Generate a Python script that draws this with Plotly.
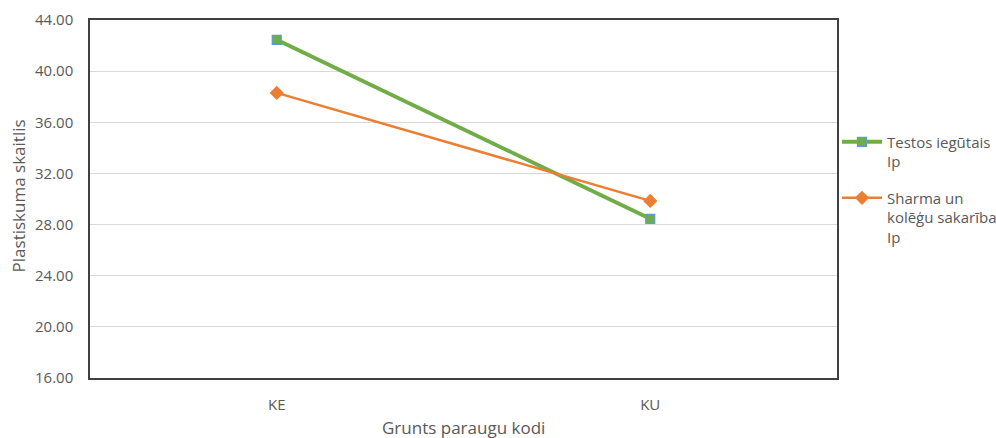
import plotly.graph_objects as go

categories = ["KE", "KU"]
testos_ip = [42.45, 28.45]
sharma_ip = [38.3, 29.85]
series_names = ["Testos iegūtais<br>Ip", "Sharma un<br>kolēģu sakarība<br>Ip"]
y_ticks = [16, 20, 24, 28, 32, 36, 40, 44]
x_title = "Grunts paraugu kodi"
y_title = "Plastiskuma skaitlis"

font_family = "Open Sans, Liberation Sans, sans-serif"

fig = go.Figure()
fig.add_trace(go.Scatter(
    x=categories, y=testos_ip, name=series_names[0], mode="lines+markers",
    legendgroup="g1",
    line=dict(color="#70AD47", width=4),
    marker=dict(symbol="square", size=9, color="#70AD47",
                line=dict(color="#5B9BD5", width=1.2)),
))
fig.add_trace(go.Scatter(
    x=categories, y=sharma_ip, name=series_names[1], mode="lines+markers",
    legendgroup="g2",
    line=dict(color="#ED7D31", width=2.5),
    marker=dict(symbol="diamond", size=11, color="#ED7D31"),
))

fig.update_layout(
    width=996, height=438,
    margin=dict(l=90, r=159, t=20, b=60, autoexpand=False),
    paper_bgcolor="white", plot_bgcolor="white",
    font=dict(family=font_family, size=15, color="#595959"),
    showlegend=True,
    legend=dict(x=1.0, y=0.705, xanchor="left", yanchor="top",
                font=dict(size=15, color="#595959"), valign="top",
                tracegroupgap=14, itemwidth=40, bgcolor="rgba(0,0,0,0)"),
    annotations=[
        dict(text=x_title, xref="paper", yref="paper", x=0.5, y=-0.137,
             xanchor="center", yanchor="middle", showarrow=False,
             font=dict(size=17, color="#595959")),
        dict(text=y_title, xref="paper", yref="paper", x=-0.0964, y=0.51,
             xanchor="center", yanchor="middle", showarrow=False, textangle=-90,
             font=dict(size=17, color="#595959")),
    ],
)
fig.update_xaxes(
    type="category", range=[-0.5, 1.5], automargin=False,
    showgrid=False, showline=True, linecolor="#404040", linewidth=1.5, mirror=True,
    ticks="outside", ticklen=12, tickcolor="rgba(0,0,0,0)",
    tickfont=dict(size=15, color="#595959"),
)
fig.update_yaxes(
    range=[16, 44], tickvals=y_ticks, ticktext=[f"{v:.2f}" for v in y_ticks],
    automargin=False,
    showgrid=True, gridcolor="#D9D9D9", gridwidth=1,
    showline=True, linecolor="#404040", linewidth=1.5, mirror=True,
    ticks="outside", ticklen=12, tickcolor="rgba(0,0,0,0)",
    tickfont=dict(size=15, color="#595959"),
    zeroline=False,
)

fig.write_html("out.html", config={"displayModeBar": False},
               post_script="document.body.style.margin='0';")
